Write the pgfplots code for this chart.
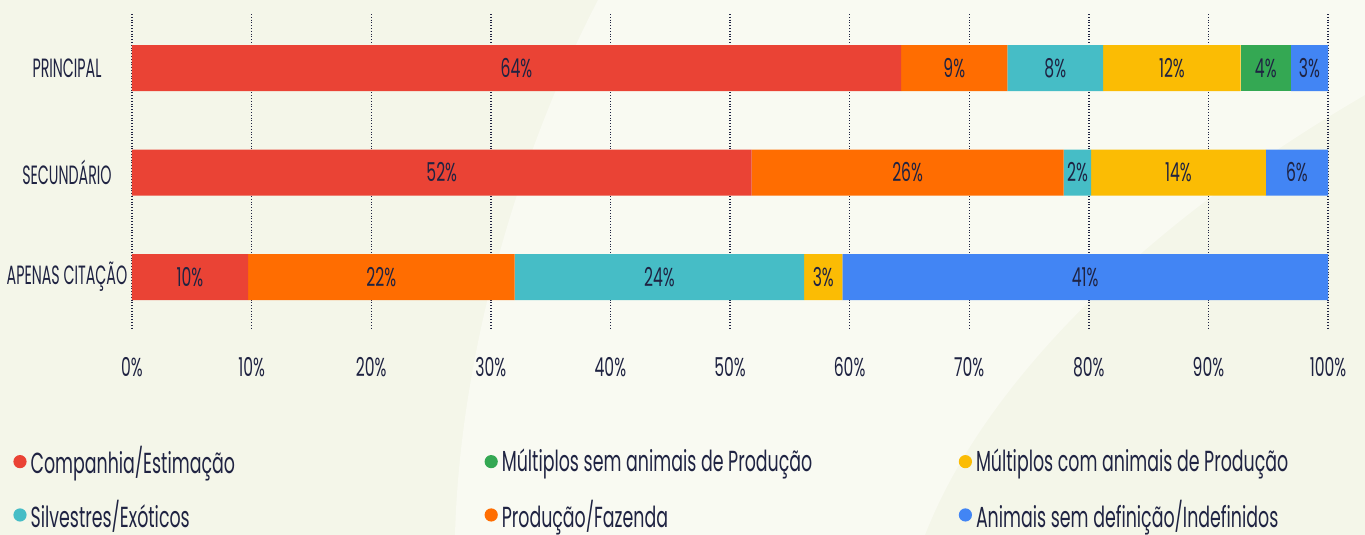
\documentclass[border=0pt]{standalone}
\usepackage{pgfplots}
\pgfplotsset{compat=1.18}
\usepackage{fontspec}
\setmainfont{Poppins}[FakeStretch=0.6]

\definecolor{bgdark}{HTML}{F4F6E9}
\definecolor{bglight}{HTML}{F9FAF2}
\definecolor{txt}{HTML}{1F2342}
\definecolor{cRed}{HTML}{EA4335}
\definecolor{cOrange}{HTML}{FF6D01}
\definecolor{cTeal}{HTML}{46BDC6}
\definecolor{cYellow}{HTML}{FBBC04}
\definecolor{cGreen}{HTML}{34A853}
\definecolor{cBlue}{HTML}{4285F4}

\begin{document}
\begin{tikzpicture}
% fundo (1 px = 0.5pt)
\begin{scope}[x=0.5pt,y=-0.5pt]
\fill[bgdark] (0,0) rectangle (1365,535);
\fill[bglight] (598,0) .. controls (520,150) and (460,350) .. (455,535)
  -- (925,535) .. controls (985,380) and (1150,220) .. (1365,95)
  -- (1365,0) -- cycle;
\end{scope}
\begin{axis}[
  at={(66pt,-165pt)}, anchor=south west,
  width=598pt, height=158pt, scale only axis,
  xbar stacked, bar width=23pt,
  xmin=0, xmax=100,
  ymin=-0.517, ymax=2.507, y dir=reverse,
  ytick={0,1,2},
  yticklabels={PRINCIPAL,SECUNDÁRIO,APENAS CITAÇÃO},
  xtick={0,10,...,100},
  xticklabels={0\%,10\%,20\%,30\%,40\%,50\%,60\%,70\%,80\%,90\%,100\%},
  xmajorgrids,
  grid style={densely dotted, line width=0.7pt, txt},
  axis line style={draw=none}, major tick length=0pt,
  tick label style={font=\fontsize{13}{15}\selectfont, text=txt},
  yticklabel style={anchor=center, xshift=-32.5pt,
    font=\addfontfeature{FakeStretch=0.54}\fontsize{13.2}{15}\selectfont},
  xticklabel style={yshift=-10pt},
  point meta=explicit symbolic,
  nodes near coords={\pgfplotspointmeta},
  nodes near coords style={font=\fontsize{13}{15}\selectfont, text=txt, anchor=center},
  every axis plot/.append style={draw=none},
  legend columns=3,
  legend cell align=left,
  legend style={draw=none, fill=none, at={(-0.1045,-0.342)}, anchor=north west,
    font=\fontsize{14.5}{16}\selectfont, text=txt, row sep=7.5pt},
]
% legenda (ordem da figura)
\addlegendimage{cRed, legend image code/.code={\fill (0pt,0pt) circle (3.3pt);}}
\addlegendimage{cGreen, legend image code/.code={\fill (0pt,0pt) circle (3.3pt);}}
\addlegendimage{cYellow, legend image code/.code={\fill (0pt,0pt) circle (3.3pt);}}
\addlegendimage{cTeal, legend image code/.code={\fill (0pt,0pt) circle (3.3pt);}}
\addlegendimage{cOrange, legend image code/.code={\fill (0pt,0pt) circle (3.3pt);}}
\addlegendimage{cBlue, legend image code/.code={\fill (0pt,0pt) circle (3.3pt);}}
\legend{\makebox[225pt][l]{Companhia/Estimação},
  \makebox[226.5pt][l]{Múltiplos sem animais de Produção},
  Múltiplos com animais de Produção,
  \makebox[225pt][l]{Silvestres/Exóticos},
  \makebox[226.5pt][l]{Produção/Fazenda},
  Animais sem definição/Indefinidos}

\addplot[fill=cRed] coordinates {(64.3,0) [64\%] (51.8,1) [52\%] (9.7,2) [10\%]};
\addplot[fill=cOrange] coordinates {(8.9,0) [9\%] (26.1,1) [26\%] (22.3,2) [22\%]};
\addplot[fill=cTeal] coordinates {(8.0,0) [8\%] (2.3,1) [2\%] (24.2,2) [24\%]};
\addplot[fill=cYellow] coordinates {(11.5,0) [12\%] (14.6,1) [14\%] (3.2,2) [3\%]};
\addplot[fill=cGreen] coordinates {(4.2,0) [4\%] (0,1) [{}] (0,2) [{}]};
\addplot[fill=cBlue] coordinates {(3.1,0) [3\%] (5.2,1) [6\%] (40.6,2) [41\%]};
\end{axis}
\pgfresetboundingbox
\path[use as bounding box] (0,0) rectangle (682.5pt,-267.5pt);
\end{tikzpicture}
\end{document}
